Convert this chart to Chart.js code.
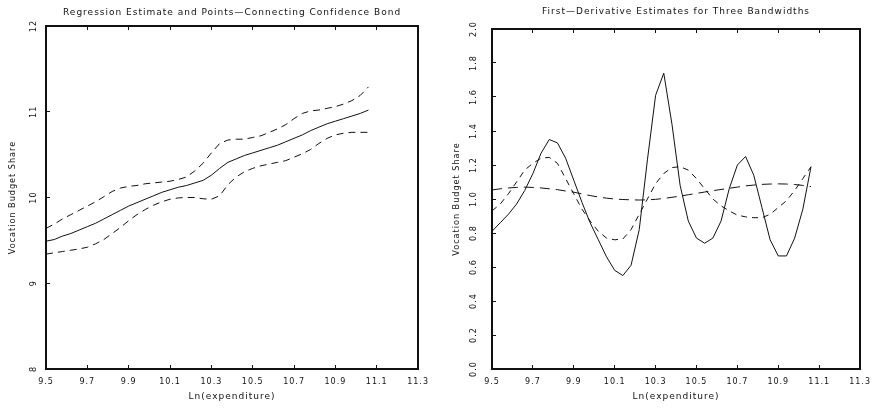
<!DOCTYPE html>
<html>
<head>
<meta charset="utf-8">
<script src="https://cdn.jsdelivr.net/npm/chart.js@4/dist/chart.umd.min.js"></script>
<style>
    html, body { margin: 0; padding: 0; background: #fff; }
    #wrap { position: relative; width: 883px; height: 408px; }
    .pane { position: absolute; top: 0; height: 408px; }
    #leftPane { left: 0; width: 441px; }
    #rightPane { left: 441px; width: 442px; }
</style>
</head>
<body>
<div id="wrap">
    <div class="pane" id="leftPane"><canvas id="regChart"></canvas></div>
    <div class="pane" id="rightPane"><canvas id="derivChart"></canvas></div>
</div>
<script>
// grid of Ln(expenditure) values the estimates were evaluated at
const xGrid = [9.50, 9.54, 9.58, 9.62, 9.66, 9.70, 9.74, 9.78, 9.82, 9.86,
    9.90, 9.94, 9.98, 10.02, 10.06, 10.10, 10.14, 10.18, 10.22, 10.26,
    10.30, 10.34, 10.38, 10.42, 10.46, 10.50, 10.54, 10.58, 10.62, 10.66,
    10.70, 10.74, 10.78, 10.82, 10.86, 10.90, 10.94, 10.98, 11.02, 11.06];

// left panel: regression estimate + confidence bond
const regFit = [9.49, 9.51, 9.55, 9.58, 9.62, 9.66, 9.70, 9.75, 9.80, 9.85,
    9.90, 9.94, 9.98, 10.02, 10.06, 10.09, 10.12, 10.14, 10.17, 10.20,
    10.26, 10.34, 10.41, 10.45, 10.49, 10.52, 10.55, 10.58, 10.61, 10.65,
    10.69, 10.73, 10.78, 10.82, 10.86, 10.89, 10.92, 10.95, 10.98, 11.02];
const bandUpper = [9.64, 9.69, 9.75, 9.80, 9.85, 9.90, 9.95, 10.01, 10.07, 10.11,
    10.13, 10.14, 10.16, 10.17, 10.18, 10.19, 10.21, 10.24, 10.31, 10.40,
    10.52, 10.63, 10.67, 10.68, 10.68, 10.70, 10.72, 10.76, 10.80, 10.85,
    10.92, 10.98, 11.01, 11.02, 11.04, 11.06, 11.09, 11.13, 11.19, 11.29];
const bandLower = [9.34, 9.355, 9.37, 9.385, 9.40, 9.42, 9.46, 9.51, 9.58, 9.65,
    9.73, 9.80, 9.86, 9.91, 9.95, 9.98, 9.995, 10.00, 10.00, 9.985,
    9.98, 10.02, 10.15, 10.24, 10.30, 10.34, 10.37, 10.39, 10.41, 10.43,
    10.47, 10.51, 10.56, 10.63, 10.69, 10.73, 10.75, 10.76, 10.76, 10.76];

// right panel: first derivative, three bandwidths
const derivSmall = [0.81, 0.86, 0.91, 0.97, 1.05, 1.15, 1.27, 1.35, 1.33, 1.24,
    1.11, 0.98, 0.86, 0.76, 0.66, 0.58, 0.55, 0.61, 0.82, 1.23,
    1.61, 1.74, 1.44, 1.08, 0.87, 0.77, 0.74, 0.77, 0.87, 1.06,
    1.20, 1.25, 1.14, 0.95, 0.76, 0.665, 0.665, 0.77, 0.94, 1.19];
const derivMid = [0.93, 0.97, 1.03, 1.10, 1.17, 1.21, 1.24, 1.245, 1.21, 1.12,
    1.03, 0.94, 0.87, 0.81, 0.77, 0.76, 0.765, 0.82, 0.91, 1.00,
    1.09, 1.15, 1.185, 1.19, 1.17, 1.12, 1.06, 1.00, 0.96, 0.93,
    0.905, 0.895, 0.89, 0.89, 0.91, 0.95, 0.99, 1.05, 1.12, 1.19];
const derivLarge = [1.053, 1.06, 1.065, 1.068, 1.07, 1.068, 1.065, 1.06, 1.055, 1.047,
    1.04, 1.03, 1.02, 1.012, 1.005, 1.0, 0.997, 0.995, 0.994, 0.995,
    0.998, 1.003, 1.01, 1.017, 1.025, 1.033, 1.041, 1.049, 1.056, 1.063,
    1.07, 1.077, 1.082, 1.086, 1.088, 1.089, 1.088, 1.085, 1.08, 1.073];

const xMin = 9.5, xMax = 11.3, xStep = 0.2;
const xTitle = 'Ln(expenditure)';
const yTitle = 'Vocation Budget Share';

const ink = '#111';
const wideFont = "'DejaVu Sans', sans-serif";
const narrowFont = "'DejaVu Sans Condensed', 'Liberation Sans Narrow', 'Liberation Sans', sans-serif";

// the old plot fonts are widely spaced
const spacingPlugin = {
    id: 'spacing',
    beforeLayout(chart) { chart.ctx.letterSpacing = '1px'; },
    beforeDraw(chart) { chart.ctx.letterSpacing = '1px'; }
};

function toPoints(values) {
    return values.map((v, i) => ({ x: xGrid[i], y: v }));
}

function lineSet(values, dash) {
    return {
        data: toPoints(values),
        borderColor: ink,
        borderWidth: 1,
        borderDash: dash,
        pointRadius: 0,
        tension: 0,
        fill: false
    };
}

function buildChart(canvasId, s) {
    const ctx = document.getElementById(canvasId).getContext('2d');
    return new Chart(ctx, {
        type: 'line',
        data: { datasets: s.datasets },
        plugins: [spacingPlugin],
        options: {
            responsive: true,
            maintainAspectRatio: false,
            animation: false,
            layout: { padding: 0 },
            plugins: {
                legend: { display: false },
                tooltip: { enabled: false },
                title: {
                    display: true,
                    fullSize: false,
                    text: s.title,
                    color: ink,
                    font: { family: wideFont, size: 9, weight: 'normal', lineHeight: 1 },
                    padding: { top: s.titleTop, bottom: s.titleBottom }
                }
            },
            scales: {
                x: {
                    type: 'linear',
                    position: 'bottom',
                    min: xMin, max: xMax,
                    afterFit: sc => { sc.height = 39; },
                    ticks: {
                        stepSize: xStep,
                        color: ink,
                        padding: 12,
                        maxRotation: 0,
                        autoSkip: false,
                        font: { family: wideFont, size: 8 },
                        callback: v => v.toFixed(1)
                    },
                    grid: { drawOnChartArea: false, tickLength: -4, color: ink },
                    border: { color: ink, width: 2 },
                    title: {
                        display: true,
                        text: xTitle,
                        color: ink,
                        font: { family: wideFont, size: 9, lineHeight: 1 },
                        padding: { top: 0, bottom: 7 }
                    }
                },
                xTop: {
                    type: 'linear',
                    position: 'top',
                    min: xMin, max: xMax,
                    afterFit: sc => { sc.height = 0; },
                    ticks: { display: false, stepSize: xStep },
                    grid: { drawOnChartArea: false, tickLength: -4, color: ink },
                    border: { color: ink, width: 2 }
                },
                y: {
                    type: 'linear',
                    position: 'left',
                    min: s.yMin, max: s.yMax,
                    afterFit: sc => { sc.width = s.leftW; },
                    ticks: {
                        stepSize: s.yStep,
                        color: ink,
                        minRotation: 90,
                        maxRotation: 90,
                        crossAlign: 'center',
                        padding: s.yTickPad,
                        font: { family: narrowFont, size: 9 },
                        callback: s.yFormat
                    },
                    grid: { drawOnChartArea: false, tickLength: -4, color: ink },
                    border: { color: ink, width: 2 },
                    title: {
                        display: true,
                        text: yTitle,
                        color: ink,
                        font: { family: narrowFont, size: 9, lineHeight: 1 },
                        padding: { top: s.yTitlePad, bottom: 0 }
                    }
                },
                yRight: {
                    type: 'linear',
                    position: 'right',
                    min: s.yMin, max: s.yMax,
                    afterFit: sc => { sc.width = s.rightW; },
                    ticks: { display: false },
                    grid: { display: false, drawOnChartArea: false, drawTicks: false },
                    border: { display: true, color: ink, width: 2 }
                }
            }
        }
    });
}

buildChart('regChart', {
    title: 'Regression Estimate and Points\u2014Connecting Confidence Bond',
    titleTop: 8, titleBottom: 9,
    yMin: 8, yMax: 12, yStep: 1,
    yFormat: v => String(v),
    leftW: 46, rightW: 14,
    yTickPad: 10, yTitlePad: 8,
    datasets: [
        lineSet(regFit, []),
        lineSet(bandUpper, [7, 5]),
        lineSet(bandLower, [7, 5])
    ]
});

buildChart('derivChart', {
    title: 'First\u2014Derivative Estimates for Three Bandwidths',
    titleTop: 7, titleBottom: 13,
    yMin: 0, yMax: 2, yStep: 0.2,
    yFormat: v => v.toFixed(1),
    leftW: 51, rightW: 11,
    yTickPad: 14, yTitlePad: 11,
    datasets: [
        lineSet(derivSmall, []),
        lineSet(derivMid, [6, 5]),
        lineSet(derivLarge, [10, 6])
    ]
});
</script>
</body>
</html>
